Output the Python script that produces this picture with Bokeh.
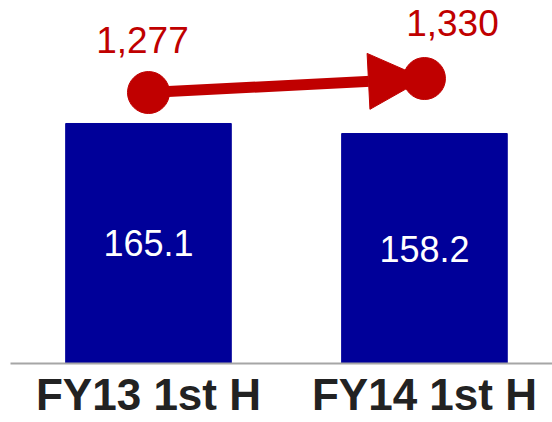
from bokeh.plotting import figure
from bokeh.models import Range1d, Arrow, NormalHead, FixedTicker
from bokeh.core.properties import value
from bokeh.embed import file_html
from bokeh.resources import INLINE

# ---- data ----
categories = ["FY13 1st H", "FY14 1st H"]
bar_values = [165.1, 158.2]
bar_labels = ["165.1", "158.2"]
line_values = [1277, 1330]
line_labels = ["1,277", "1,330"]

BLUE = "#000099"
RED = "#c00000"
FONT = "Liberation Sans"

x = [i + 0.5 for i in range(len(categories))]

p = figure(width=552, height=422, output_backend="svg", toolbar_location=None,
           x_range=Range1d(0, 1.964), y_range=Range1d(0, 249.7),
           y_axis_location=None,
           min_border_left=10, min_border_right=0, min_border_top=0,
           min_border_bottom=59)
p.extra_y_ranges = {"line": Range1d(251.3, 1625.3)}
p.outline_line_color = None
p.grid.visible = False
p.background_fill_color = "white"
p.border_fill_color = "white"

# bars
p.vbar(x=x, top=bar_values, width=0.6, color=BLUE)
p.text(x=x, y=[v / 2 for v in bar_values], text=bar_labels,
       text_align="center", text_baseline="middle",
       text_font=value(FONT), text_font_size="36px", text_color="white")

# arrow line
arrow = Arrow(x_start=x[0], y_start=line_values[0], x_end=x[1], y_end=line_values[1],
              y_range_name="line", line_color=RED, line_width=11,
              end=NormalHead(size=56, fill_color=RED, line_color=RED, line_width=1))
p.add_layout(arrow)
p.scatter(x=x, y=line_values, y_range_name="line", size=42,
          fill_color=RED, line_color=RED, level="overlay")

p.text(x=[x[0]], y=[line_values[0]], text=[line_labels[0]], y_range_name="line",
       x_offset=-6, y_offset=-53, text_align="center", text_baseline="alphabetic",
       text_font=value(FONT), text_font_size="37px", text_color=RED)
p.text(x=[x[1]], y=[line_values[1]], text=[line_labels[1]], y_range_name="line",
       x_offset=28, y_offset=-56, text_align="center", text_baseline="alphabetic",
       text_font=value(FONT), text_font_size="37px", text_color=RED)

# x axis
ax = p.xaxis[0]
ax.ticker = FixedTicker(ticks=x)
ax.major_label_overrides = {xi: c for xi, c in zip(x, categories)}
ax.major_tick_line_color = None
ax.major_tick_out = 0
ax.major_tick_in = 0
ax.minor_tick_line_color = None
ax.axis_line_color = "#a6a6a6"
ax.axis_line_width = 2
ax.major_label_standoff = 6
ax.major_label_text_line_height = 0.8
ax.major_label_text_font = FONT
ax.major_label_text_font_style = "bold"
ax.major_label_text_font_size = "44px"
ax.major_label_text_color = "#222222"

open("out.html", "w").write(file_html(p, INLINE))
